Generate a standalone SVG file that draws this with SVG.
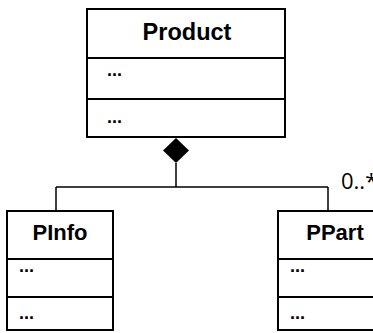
<svg xmlns="http://www.w3.org/2000/svg" width="373" height="333" viewBox="0 0 373 333">
<style>
.box{fill:#fff;stroke:#000;stroke-width:2}
.div{stroke:#000;stroke-width:2}
.title{font-family:"Liberation Sans",Arial,sans-serif;font-weight:bold;font-size:22px;text-anchor:middle;fill:#000}
.dots{font-family:"Liberation Sans",Arial,sans-serif;font-weight:bold;font-size:18px;fill:#000}
.conn{stroke:#000;stroke-width:1.5;fill:none}
.mult{font-family:"Open Sans","DejaVu Sans",sans-serif;font-size:22px;fill:#000}
</style>
<rect width="373" height="333" fill="#fff"/>
<g id="connectors">
<polygon points="176,138 189,150.5 176,163 163,150.5" fill="#000"/>
<path class="conn" d="M176,163 V187 M56,187 H328 M56,187 V211 M328,187 V211"/>
<text class="mult" x="341" y="189">0..*</text>
</g>
<g id="Product">
<rect class="box" x="87" y="9" width="198" height="128"/>
<line class="div" x1="87" y1="58" x2="285" y2="58"/>
<line class="div" x1="87" y1="99" x2="285" y2="99"/>
<text class="title" x="187" y="40" style="font-size:23.5px">Product</text>
<text class="dots" x="107" y="76">...</text>
<text class="dots" x="107" y="123">...</text>
</g>
<g id="PInfo">
<rect class="box" x="7" y="211" width="106" height="119"/>
<line class="div" x1="7" y1="259" x2="113" y2="259"/>
<line class="div" x1="7" y1="297" x2="113" y2="297"/>
<text class="title" x="60" y="240">PInfo</text>
<text class="dots" x="19" y="272">...</text>
<text class="dots" x="19" y="319">...</text>
</g>
<g id="PPart">
<rect class="box" x="278" y="211" width="110" height="119"/>
<line class="div" x1="278" y1="259" x2="388" y2="259"/>
<line class="div" x1="278" y1="297" x2="388" y2="297"/>
<text class="title" x="335" y="240">PPart</text>
<text class="dots" x="290" y="272">...</text>
<text class="dots" x="290" y="319">...</text>
</g>
</svg>
